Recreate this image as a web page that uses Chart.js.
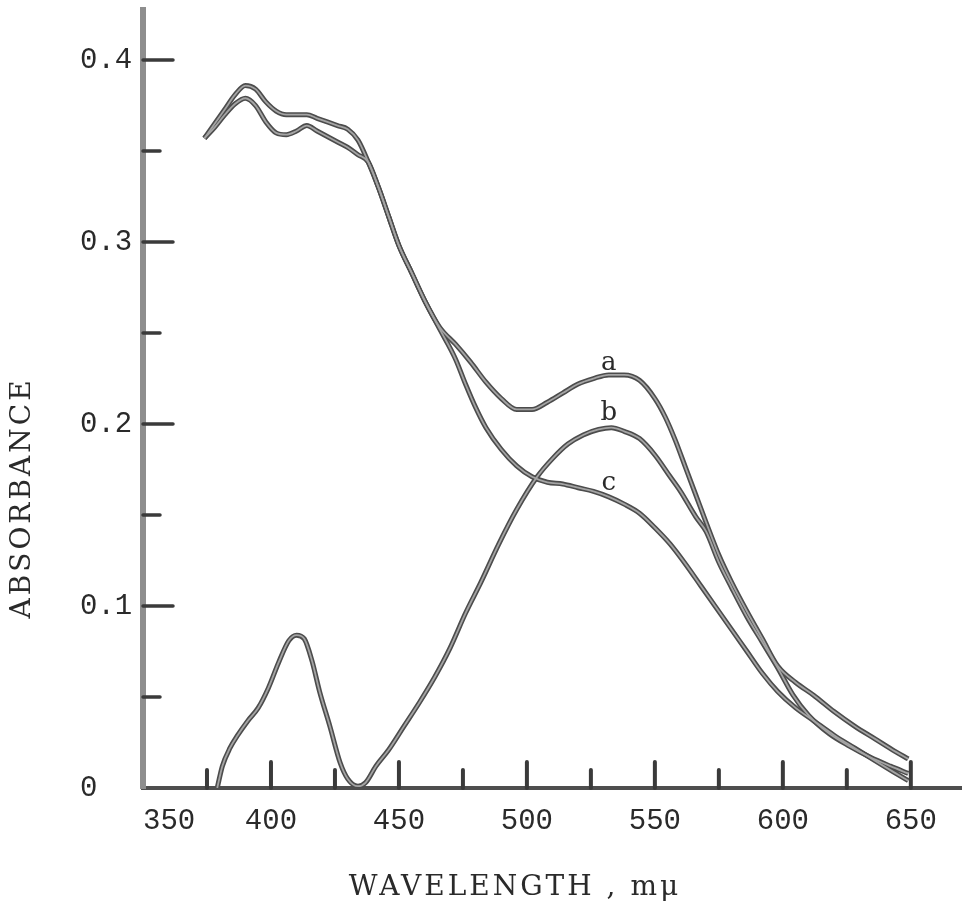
<!DOCTYPE html>
<html>
<head>
<meta charset="utf-8">
<title>Absorbance spectra</title>
<script src="https://cdn.jsdelivr.net/npm/chart.js@4.4.1/dist/chart.umd.min.js"></script>
<style>
  html, body { margin: 0; padding: 0; background: #fff; }
  canvas { display: block; }
</style>
</head>
<body>
<canvas id="spectrumChart" width="962" height="902"></canvas>
<script>
// curve a
const waveA = [374, 378, 382, 386, 390, 394, 398, 402, 406, 410, 414, 418, 422, 426, 430, 434, 438, 442, 446, 450,
  455, 460, 466, 472, 478, 484, 490, 496, 502, 508, 514, 520, 526, 532, 538, 544, 550, 554, 558, 562,
  566, 570, 575, 580, 586, 592, 598, 605, 612, 620, 628, 636, 644, 649];
const absA = [0.357, 0.365, 0.373, 0.381, 0.386, 0.384, 0.377, 0.372, 0.370, 0.370, 0.370, 0.368, 0.366, 0.364, 0.362, 0.356, 0.344, 0.330, 0.314, 0.298,
  0.283, 0.268, 0.253, 0.244, 0.234, 0.223, 0.214, 0.208, 0.208, 0.212, 0.217, 0.222, 0.225, 0.227, 0.227, 0.224, 0.214, 0.204, 0.191, 0.176,
  0.161, 0.146, 0.128, 0.113, 0.097, 0.082, 0.067, 0.058, 0.051, 0.042, 0.034, 0.027, 0.020, 0.016];

// curve b
const waveB = [379, 381, 384, 387, 391, 395, 399, 403, 407, 410, 413, 416, 419, 423, 427, 430, 434, 437, 441, 446,
  452, 458, 464, 470, 476, 482, 489, 496, 504, 510, 516, 522, 528, 533, 538, 544, 550, 556, 560, 566,
  570, 575, 580, 586, 592, 598, 604, 610, 618, 626, 634, 642, 649];
const absB = [0.000, 0.012, 0.022, 0.029, 0.037, 0.044, 0.055, 0.069, 0.081, 0.084, 0.082, 0.070, 0.053, 0.034, 0.014, 0.005, 0.001, 0.003, 0.012, 0.021,
  0.034, 0.047, 0.061, 0.077, 0.096, 0.113, 0.134, 0.153, 0.171, 0.181, 0.189, 0.194, 0.197, 0.198, 0.196, 0.192, 0.183, 0.171, 0.163, 0.149,
  0.141, 0.124, 0.110, 0.094, 0.080, 0.066, 0.051, 0.040, 0.030, 0.023, 0.017, 0.012, 0.008];

// curve c
const waveC = [374, 378, 382, 386, 390, 394, 398, 402, 406, 410, 414, 418, 422, 426, 430, 434, 438, 442, 446, 450,
  455, 460, 466, 472, 476, 480, 484, 490, 496, 502, 508, 514, 520, 526, 532, 538, 544, 550, 556, 562,
  568, 574, 580, 586, 592, 598, 605, 612, 620, 628, 636, 643, 649];
const absC = [0.357, 0.363, 0.370, 0.376, 0.379, 0.375, 0.366, 0.360, 0.359, 0.361, 0.364, 0.361, 0.358, 0.355, 0.352, 0.348, 0.344, 0.330, 0.314, 0.298,
  0.283, 0.268, 0.252, 0.236, 0.222, 0.209, 0.198, 0.186, 0.177, 0.171, 0.168, 0.167, 0.165, 0.163, 0.160, 0.156, 0.151, 0.143, 0.134, 0.123,
  0.111, 0.099, 0.087, 0.075, 0.063, 0.053, 0.044, 0.037, 0.029, 0.022, 0.015, 0.009, 0.004];

const curveNames = ['a', 'b', 'c'];
const xMajorTicks = [350, 400, 450, 500, 550, 600, 650];
const xTickLabels = ['   350', '400', '450', '500', '550', '600', '650'];
const yMajorTicks = [0, 0.1, 0.2, 0.3, 0.4];
const yTickLabels = ['0', '0.1', '0.2', '0.3', '0.4'];
const xTitle = 'WAVELENGTH , m\u03bc';
const yTitle = 'ABSORBANCE';

const MONO = 'Liberation Mono, monospace';
const SERIF = 'DejaVu Serif, serif';
const INK = '#2a2a2a';

function toPoints(xs, ys) {
  return xs.map((x, i) => ({ x: x, y: ys[i] }));
}

function majorIndex(value, list) {
  return list.findIndex(v => Math.abs(v - value) < 1e-6);
}

// where the letters a, b, c sit (wavelength, absorbance at text baseline)
const nameSpots = [[532, 0.2297], [532, 0.2022], [532, 0.1637]];

const axisDecor = {
  id: 'axisDecor',
  beforeDatasetsDraw(chart) {
    const { ctx, scales: { x, y } } = chart;
    ctx.save();
    ctx.strokeStyle = '#3a3a3a';
    ctx.lineCap = 'round';
    ctx.lineWidth = 4;
    x.ticks.forEach(t => {
      if (t.value <= x.min) return;
      const px = x.getPixelForValue(t.value);
      const len = majorIndex(t.value, xMajorTicks) >= 0 ? 26 : 18;
      ctx.beginPath();
      ctx.moveTo(px, y.bottom);
      ctx.lineTo(px, y.bottom - len);
      ctx.stroke();
    });
    ctx.lineWidth = 3.5;
    y.ticks.forEach(t => {
      if (t.value <= y.min) return;
      const py = y.getPixelForValue(t.value);
      const len = majorIndex(t.value, yMajorTicks) >= 0 ? 30 : 17;
      ctx.beginPath();
      ctx.moveTo(x.left, py);
      ctx.lineTo(x.left + len, py);
      ctx.stroke();
    });
    ctx.restore();
  },
  afterDraw(chart) {
    const { ctx, chartArea, scales: { x, y } } = chart;
    ctx.save();
    ctx.fillStyle = INK;
    ctx.textAlign = 'center';

    // curve names
    ctx.font = '26px ' + SERIF;
    ctx.textBaseline = 'alphabetic';
    curveNames.forEach((n, i) => {
      ctx.fillText(n, x.getPixelForValue(nameSpots[i][0]), y.getPixelForValue(nameSpots[i][1]));
    });

    // axis titles, typewriter spacing
    ctx.font = '28px ' + SERIF;
    ctx.letterSpacing = '3px';
    ctx.textBaseline = 'middle';
    ctx.fillText(xTitle, chartArea.left + 372, chartArea.bottom + 100);
    ctx.translate(chartArea.left - 120, chartArea.top + 488);
    ctx.rotate(-Math.PI / 2);
    ctx.fillText(yTitle, 0, 0);
    ctx.restore();
  }
};

// each curve is drawn as a dark outline with a lighter core, like the inked trace
function curveSets(withCore) {
  const sets = [[waveA, absA], [waveB, absB], [waveC, absC]];
  return sets.map((s, i) => ({
    label: withCore ? curveNames[i] : curveNames[i] + ' outline',
    data: toPoints(s[0], s[1]),
    borderColor: withCore ? '#a4a4a4' : '#4c4c4c',
    borderWidth: withCore ? 1.8 : 5,
    order: withCore ? 1 : 2,
    pointRadius: 0,
    fill: false,
    cubicInterpolationMode: 'monotone'
  }));
}

const ctx = document.getElementById('spectrumChart').getContext('2d');
const spectrumChart = new Chart(ctx, {
  type: 'line',
  data: {
    datasets: curveSets(false).concat(curveSets(true))
  },
  options: {
    responsive: false,
    animation: false,
    devicePixelRatio: 1,
    layout: { padding: { left: 80, top: 10, right: 0, bottom: 0 } },
    plugins: {
      legend: { display: false },
      tooltip: { enabled: false }
    },
    scales: {
      x: {
        type: 'linear',
        min: 350,
        max: 670,
        grid: { drawOnChartArea: false, drawTicks: false },
        border: { display: true, color: '#4e4e4e', width: 4 },
        ticks: {
          stepSize: 25,
          autoSkip: false,
          maxRotation: 0,
          includeBounds: false,
          padding: 16,
          color: INK,
          font: { family: MONO, size: 29 },
          callback: v => {
            const i = majorIndex(v, xMajorTicks);
            return i >= 0 ? xTickLabels[i] : '';
          }
        },
        afterFit: s => { s.height = 114; s.paddingLeft = 0; s.paddingRight = 0; }
      },
      y: {
        type: 'linear',
        min: 0,
        max: 0.4275,
        grid: { drawOnChartArea: false, drawTicks: false },
        border: { display: true, color: '#8e8e8e', width: 6 },
        ticks: {
          stepSize: 0.05,
          includeBounds: false,
          crossAlign: 'far',
          color: INK,
          font: { family: MONO, size: 29 },
          callback: v => {
            const i = majorIndex(v, yMajorTicks);
            return i >= 0 ? yTickLabels[i] : '';
          }
        },
        afterFit: s => { s.width = 63; s.paddingTop = 0; s.paddingBottom = 0; }
      }
    }
  },
  plugins: [axisDecor]
});
</script>
</body>
</html>
